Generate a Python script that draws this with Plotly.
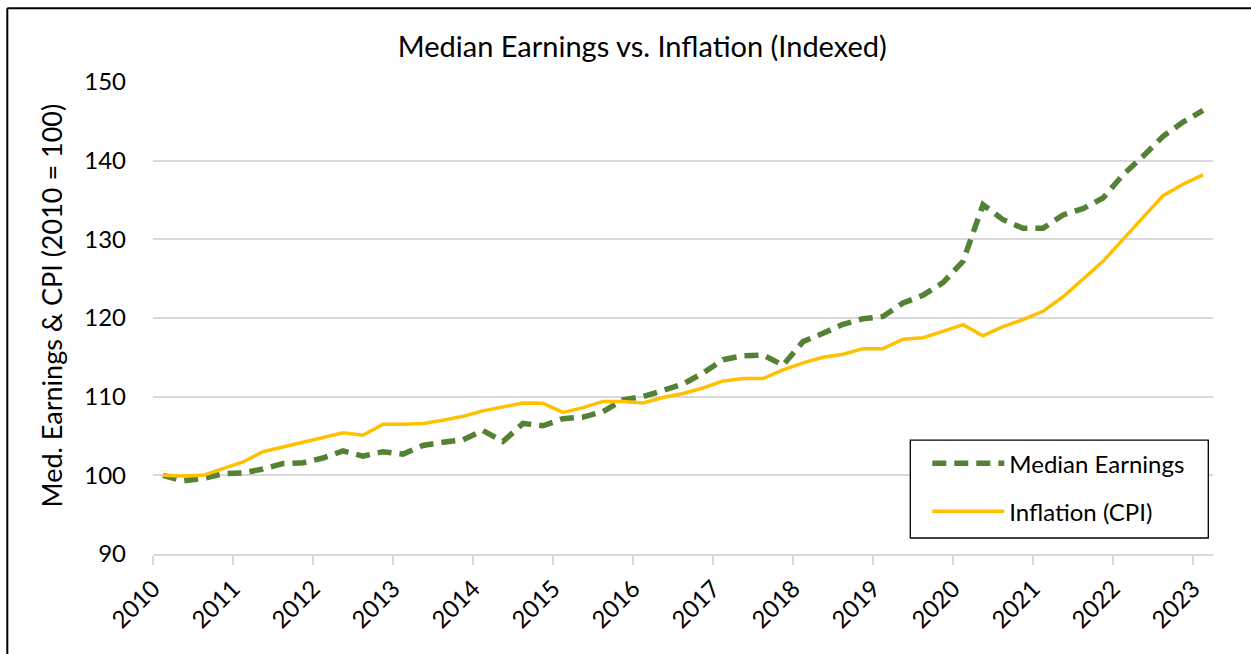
import plotly.graph_objects as go

# Quarterly observations, 2010 Q1 .. 2023 Q1
years = [y for y in range(2010, 2023) for _ in range(4)] + [2023]
quarters = [q for _ in range(2010, 2023) for q in range(1, 5)] + [1]

median_earnings = [
    100.0, 99.3, 99.6, 100.2, 100.3, 100.8, 101.5, 101.6, 102.2, 103.1,
    102.45, 103.0, 102.7, 103.8, 104.2, 104.5, 105.7, 104.3, 106.6, 106.3,
    107.2, 107.4, 108.1, 109.6, 110.0, 110.8, 111.6, 113.0, 114.7, 115.2,
    115.3, 114.0, 117.0, 118.05, 119.2, 119.9, 120.2, 121.9, 122.9, 124.5,
    127.2, 134.4, 132.5, 131.4, 131.4, 133.1, 133.9, 135.25, 138.2, 140.55,
    143.1, 144.9, 146.4,
]
cpi = [
    100.0, 99.9, 100.0, 100.8, 101.7, 103.0, 103.6, 104.2, 104.7, 105.4,
    105.1, 106.5, 106.5, 106.6, 107.0, 107.5, 108.2, 108.7, 109.2, 109.15,
    108.0, 108.6, 109.4, 109.4, 109.2, 109.9, 110.4, 111.1, 112.0, 112.3,
    112.3, 113.4, 114.3, 115.0, 115.4, 116.1, 116.1, 117.3, 117.5, 118.3,
    119.15, 117.75, 118.9, 119.8, 120.85, 122.7, 125.0, 127.2, 130.0, 132.8,
    135.55, 137.0, 138.2,
]
tick_years = list(range(2010, 2024))
tick_labels = [str(y) for y in tick_years]

# Category-style placement: each quarter sits in the middle of its slot
x = [y + (q - 0.5) / 4 for y, q in zip(years, quarters)]

FONT = "Lato, Calibri, Carlito, sans-serif"
W, H = 1251, 654
L, R, T, B = 152.7, 38.3, 81.7, 100

fig = go.Figure()
fig.add_trace(go.Scatter(
    x=x, y=median_earnings, mode="lines", name="Median Earnings",
    line=dict(color="#548235", width=5.5, dash="14px,8px"),
    legendgroup="a",
))
fig.add_trace(go.Scatter(
    x=x, y=cpi, mode="lines", name="Inflation (CPI)",
    line=dict(color="#FFC000", width=3.5),
    legendgroup="b",
))

pw = W - L - R
ph = H - T - B
def px(v):
    return (v - L) / pw
def py(v):
    return (H - B - v) / ph

fig.update_layout(
    width=W, height=H,
    margin=dict(l=L, r=R, t=T, b=B, pad=0),
    paper_bgcolor="white", plot_bgcolor="white",
    font=dict(family=FONT, size=24, color="black"),
    title=dict(text="Median Earnings vs. Inflation (Indexed)", x=px(642), xanchor="center",
               xref="paper", y=1 - 47 / H, yanchor="middle",
               font=dict(size=29, family=FONT, color="black")),
    xaxis=dict(
        range=[2010, 2010 + 53 / 4], tickmode="array", tickvals=tick_years, ticktext=tick_labels,
        tickangle=-45, showgrid=False, showline=True, linecolor="#d9d9d9", linewidth=2,
        ticks="outside", ticklen=9, tickcolor="#d9d9d9", tickwidth=2, zeroline=False,
        tickfont=dict(size=24, family=FONT, color="black"),
    ),
    yaxis=dict(
        range=[90, 150], dtick=10, tick0=90, showgrid=True, gridcolor="#d9d9d9", gridwidth=2,
        zeroline=False, showline=False, ticks="", ticklabelstandoff=26,
        tickfont=dict(size=24, family=FONT, color="black"),
    ),
    legend=dict(
        x=px(927), y=py(441), xanchor="left", yanchor="top",
        bgcolor="rgba(0,0,0,0)", borderwidth=0,
        font=dict(size=24, family=FONT, color="black"),
        tracegroupgap=14, itemwidth=72,
    ),
    showlegend=True,
    annotations=[
        dict(text="Med. Earnings & CPI (2010 = 100)", textangle=-90, xref="paper", yref="paper",
             x=px(51), y=py(305), xanchor="center", yanchor="middle", showarrow=False,
             font=dict(size=27, family=FONT, color="black")),
    ],
    shapes=[
        dict(type="line", xref="paper", yref="paper", x0=px(7), x1=px(1260), y0=py(8), y1=py(8),
             line=dict(color="black", width=2)),
        dict(type="line", xref="paper", yref="paper", x0=px(7), x1=px(7), y0=py(8), y1=py(670),
             line=dict(color="black", width=2)),
        dict(type="rect", xref="paper", yref="paper", x0=px(910), x1=px(1208), y0=py(440), y1=py(538),
             line=dict(color="black", width=1.3), fillcolor="white", layer="above"),
    ],
)

fig.write_html("out.html", config={"displayModeBar": False},
               post_script="document.body.style.margin='0px';")
